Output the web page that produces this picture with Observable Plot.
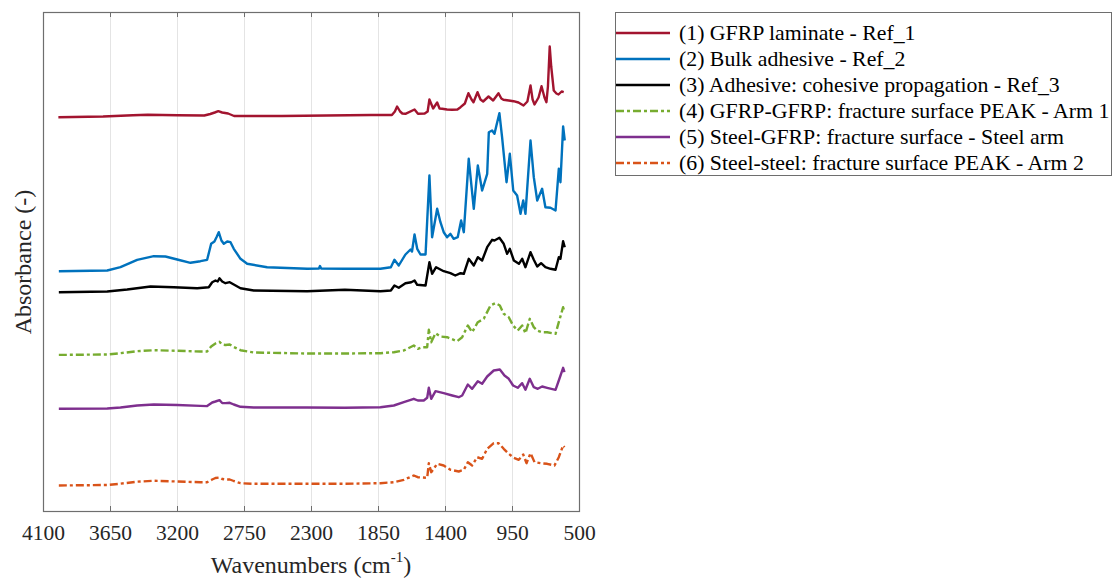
<!DOCTYPE html>
<html>
<head>
<meta charset="utf-8">
<script src="https://cdn.jsdelivr.net/npm/d3@7"></script>
<script src="https://cdn.jsdelivr.net/npm/@observablehq/plot@0.6"></script>
<style>
  html, body { margin: 0; padding: 0; background: #fff; }
  #wrap { position: relative; width: 1115px; height: 579px; font-family: "Liberation Serif", "DejaVu Serif", serif; }
  #wrap svg { position: absolute; left: 0; top: 0; }
  .xlabel { position: absolute; left: 0; width: 622px; text-align: center; top: 551px; font-size: 24px; color: #262626; white-space: nowrap; font-family: "Liberation Serif", serif; }
  .xlabel sup { font-size: 15px; position: relative; top: -2px; }
  .ylabel { position: absolute; left: 23px; top: 262px; transform: translate(-50%, -50%) rotate(-90deg); font-size: 24px; color: #262626; white-space: nowrap; font-family: "Liberation Serif", serif; }
  .legend { position: absolute; left: 615px; top: 12px; width: 497px; height: 164px; border: 1px solid #6e6e6e; box-sizing: border-box; background: #fff; }
  .legrow { position: absolute; left: 0; height: 26px; width: 100%; }
  .legrow svg { position: absolute; left: 6px; top: 0; }
  .legrow span { position: absolute; left: 63px; top: 0; line-height: 26px; font-size: 21.8px; color: #000; white-space: nowrap; font-family: "Liberation Serif", serif; }
</style>
</head>
<body>
<div id="wrap"></div>
<script>
// ---- Data ----
const xTicks = [4100, 3650, 3200, 2750, 2300, 1850, 1400, 950, 500];

const seriesNames = [
  "(1) GFRP laminate - Ref_1",
  "(2) Bulk adhesive - Ref_2",
  "(3) Adhesive: cohesive propagation - Ref_3",
  "(4) GFRP-GFRP: fracture surface PEAK - Arm 1",
  "(5) Steel-GFRP: fracture surface - Steel arm",
  "(6) Steel-steel: fracture surface PEAK - Arm 2"
];
const seriesColors = ["#A2142F", "#0072BD", "#000000", "#77AC30", "#7E2F8E", "#D95319"];
const seriesDash = [null, null, null, "8,3,3,3", null, "8,3,3,3"];

// [wavenumber cm^-1, absorbance (offset, arbitrary units)]
const gfrpLaminate = [
  [4000,3.943],[3700,3.95],[3500,3.962],[3400,3.967],[3200,3.962],[3020,3.96],[2980,3.975],[2950,3.99],
  [2926,4.003],[2900,3.99],[2860,3.98],[2820,3.955],[2700,3.955],[2500,3.955],[2200,3.96],[1900,3.965],
  [1760,3.965],[1740,4.0],[1725,4.05],[1705,4.0],[1690,3.98],[1669,3.977],[1608,4.02],[1585,3.977],
  [1540,3.98],[1520,4.0],[1508,4.12],[1483,4.03],[1456,4.09],[1440,4.03],[1422,4.027],[1390,4.02],
  [1355,4.017],[1320,4.02],[1299,4.043],[1270,4.08],[1246,4.183],[1225,4.12],[1212,4.093],[1185,4.193],
  [1165,4.12],[1147,4.10],[1111,4.15],[1080,4.11],[1044,4.183],[1025,4.13],[1011,4.117],[975,4.11],
  [943,4.103],[910,4.09],[876,4.06],[850,4.10],[829,4.26],[815,4.12],[802,4.07],[775,4.14],[755,4.253],
  [735,4.14],[722,4.093],[712,4.25],[700,4.65],[690,4.45],[673,4.21],[655,4.18],[641,4.17],[620,4.20],[606,4.193]
];
const bulkAdhesive = [
  [3997,2.403],[3672,2.41],[3583,2.443],[3471,2.517],[3359,2.553],[3281,2.55],[3202,2.52],[3113,2.487],
  [3046,2.503],[3001,2.517],[2974,2.677],[2952,2.70],[2938,2.743],[2923,2.793],[2905,2.71],[2889,2.677],
  [2866,2.70],[2844,2.693],[2822,2.627],[2777,2.527],[2732,2.477],[2598,2.443],[2329,2.427],[2250,2.43],
  [2243,2.455],[2235,2.43],[2076,2.427],[1837,2.427],[1767,2.443],[1743,2.517],[1714,2.46],[1669,2.57],
  [1635,2.62],[1625,2.60],[1608,2.77],[1590,2.627],[1568,2.57],[1534,2.57],[1508,3.36],[1490,2.743],
  [1456,3.027],[1434,2.893],[1412,2.793],[1389,2.743],[1367,2.777],[1345,2.727],[1318,2.743],[1295,2.91],
  [1277,2.793],[1244,3.527],[1210,3.027],[1183,3.46],[1154,3.21],[1120,3.377],[1109,3.793],[1087,3.81],
  [1071,3.777],[1058,3.86],[1038,3.983],[1020,3.743],[990,3.293],[968,3.577],[945,3.21],[919,3.16],
  [896,2.977],[878,3.11],[863,2.977],[829,3.71],[807,3.343],[784,3.11],[751,3.227],[729,3.043],
  [695,3.037],[661,3.01],[639,3.427],[628,3.293],[610,3.85],[599,3.71]
];
const cohesiveAdhesive = [
  [3997,2.193],[3672,2.20],[3538,2.22],[3381,2.25],[3225,2.243],[3068,2.233],[2990,2.243],[2967,2.293],
  [2945,2.31],[2930,2.30],[2918,2.333],[2900,2.30],[2878,2.283],[2849,2.293],[2822,2.27],[2777,2.233],
  [2688,2.21],[2329,2.203],[2076,2.217],[1837,2.203],[1767,2.21],[1743,2.26],[1714,2.237],[1669,2.283],
  [1630,2.293],[1608,2.31],[1590,2.267],[1534,2.26],[1508,2.493],[1490,2.377],[1463,2.443],[1412,2.403],
  [1367,2.383],[1334,2.36],[1299,2.383],[1277,2.377],[1244,2.527],[1210,2.46],[1183,2.543],[1154,2.51],
  [1120,2.643],[1087,2.717],[1071,2.71],[1038,2.737],[1009,2.677],[986,2.577],[968,2.627],[941,2.51],
  [907,2.477],[885,2.527],[863,2.443],[829,2.593],[807,2.517],[784,2.45],[758,2.483],[729,2.443],
  [695,2.427],[661,2.417],[639,2.543],[628,2.527],[610,2.703],[599,2.643]
];
const gfrpGfrpArm1 = [
  [3997,1.566],[3672,1.57],[3583,1.583],[3471,1.603],[3359,1.613],[3202,1.607],[3046,1.60],[3001,1.60],
  [2974,1.65],[2945,1.68],[2918,1.697],[2900,1.67],[2878,1.665],[2849,1.67],[2822,1.645],[2777,1.613],
  [2688,1.59],[2329,1.58],[2076,1.58],[1837,1.583],[1747,1.593],[1680,1.61],[1613,1.66],[1586,1.627],
  [1557,1.643],[1523,1.643],[1512,1.817],[1496,1.693],[1467,1.783],[1434,1.75],[1389,1.743],[1322,1.703],
  [1288,1.743],[1250,1.86],[1221,1.793],[1183,1.893],[1143,1.927],[1098,2.06],[1064,2.083],[1035,2.06],
  [1009,1.977],[975,1.943],[946,1.86],[915,1.81],[885,1.86],[863,1.783],[834,1.927],[807,1.843],
  [784,1.81],[751,1.793],[717,1.793],[661,1.777],[639,1.893],[610,2.043],[601,1.993]
];
const steelGfrpSteel = [
  [3997,1.027],[3672,1.03],[3583,1.04],[3471,1.06],[3359,1.07],[3202,1.065],[3046,1.056],[3001,1.054],
  [2967,1.09],[2945,1.10],[2918,1.114],[2900,1.085],[2878,1.084],[2849,1.087],[2822,1.07],[2777,1.047],
  [2688,1.04],[2329,1.04],[2076,1.037],[1837,1.043],[1747,1.06],[1680,1.093],[1613,1.127],[1586,1.11],
  [1546,1.11],[1523,1.137],[1512,1.237],[1496,1.127],[1467,1.203],[1412,1.183],[1355,1.16],[1311,1.143],
  [1288,1.16],[1250,1.27],[1221,1.227],[1183,1.303],[1154,1.277],[1120,1.35],[1076,1.41],[1035,1.42],
  [1004,1.36],[975,1.327],[946,1.26],[915,1.237],[885,1.283],[863,1.217],[834,1.327],[807,1.243],
  [780,1.227],[751,1.25],[717,1.237],[661,1.217],[639,1.31],[610,1.437],[601,1.393]
];
const steelSteelArm2 = [
  [3997,0.26],[3672,0.265],[3583,0.278],[3471,0.298],[3359,0.307],[3202,0.30],[3046,0.293],[3001,0.293],
  [2967,0.32],[2945,0.335],[2918,0.34],[2900,0.325],[2878,0.32],[2849,0.32],[2822,0.305],[2777,0.283],
  [2688,0.277],[2329,0.277],[2076,0.277],[1837,0.283],[1747,0.293],[1680,0.317],[1613,0.36],[1586,0.343],
  [1523,0.337],[1512,0.483],[1496,0.393],[1456,0.477],[1412,0.46],[1367,0.417],[1311,0.40],[1277,0.417],
  [1250,0.493],[1221,0.46],[1187,0.543],[1154,0.527],[1120,0.627],[1076,0.683],[1043,0.683],[1009,0.627],
  [975,0.577],[941,0.537],[908,0.517],[878,0.57],[856,0.483],[829,0.583],[802,0.493],[762,0.483],
  [717,0.477],[668,0.46],[639,0.543],[610,0.66],[601,0.643]
];

const seriesData = [gfrpLaminate, bulkAdhesive, cohesiveAdhesive, gfrpGfrpArm1, steelGfrpSteel, steelSteelArm2];

// ---- Build chart ----
const FONT = "'Liberation Serif', 'DejaVu Serif', serif";
const yTop = 4.99;
const lineMarks = seriesData.map((d, i) => Plot.line(d, {
  x: p => p[0], y: p => p[1],
  stroke: seriesColors[i], strokeWidth: 2.4,
  strokeDasharray: seriesDash[i] || undefined,
  strokeLinejoin: "round", strokeLinecap: "butt"
}));

const chart = Plot.plot({
  width: 1115, height: 579,
  marginLeft: 43, marginRight: 536, marginTop: 12, marginBottom: 68,
  style: { fontFamily: FONT, background: "transparent", overflow: "visible" },
  x: { domain: [4100, 500], ticks: xTicks },
  y: { domain: [0, yTop], axis: null },
  marks: [
    Plot.gridX(xTicks, { stroke: "#e4e4e4", strokeOpacity: 1, strokeWidth: 1 }),
    ...lineMarks,
    Plot.ruleX(xTicks.slice(1, -1), { y1: 0, y2: 0.05, stroke: "#6e6e6e" }),
    Plot.ruleX(xTicks.slice(1, -1), { y1: yTop - 0.05, y2: yTop, stroke: "#6e6e6e" }),
    Plot.frame({ stroke: "#6e6e6e", strokeWidth: 1.2 }),
    Plot.axisX(xTicks, { tickSize: 0, tickPadding: 13, fontSize: 21.5, fill: "#262626", label: null, tickFormat: d => String(d) })
  ]
});

const wrap = document.getElementById("wrap");
wrap.appendChild(chart);

const xl = document.createElement("div");
xl.className = "xlabel";
xl.innerHTML = "Wavenumbers (cm<sup>-1</sup>)";
wrap.appendChild(xl);

const yl = document.createElement("div");
yl.className = "ylabel";
yl.textContent = "Absorbance (-)";
wrap.appendChild(yl);

// Legend
const leg = document.createElement("div");
leg.className = "legend";
seriesNames.forEach((name, i) => {
  const row = document.createElement("div");
  row.className = "legrow";
  row.style.top = (7 + i * 26) + "px";
  const dash = seriesDash[i] ? `stroke-dasharray="${seriesDash[i]}"` : "";
  row.innerHTML = `<svg width="56" height="26"><line x1="0" x2="54" y1="13" y2="13" stroke="${seriesColors[i]}" stroke-width="2.4" ${dash}/></svg><span></span>`;
  row.querySelector("span").textContent = name;
  leg.appendChild(row);
});
wrap.appendChild(leg);
</script>
</body>
</html>
